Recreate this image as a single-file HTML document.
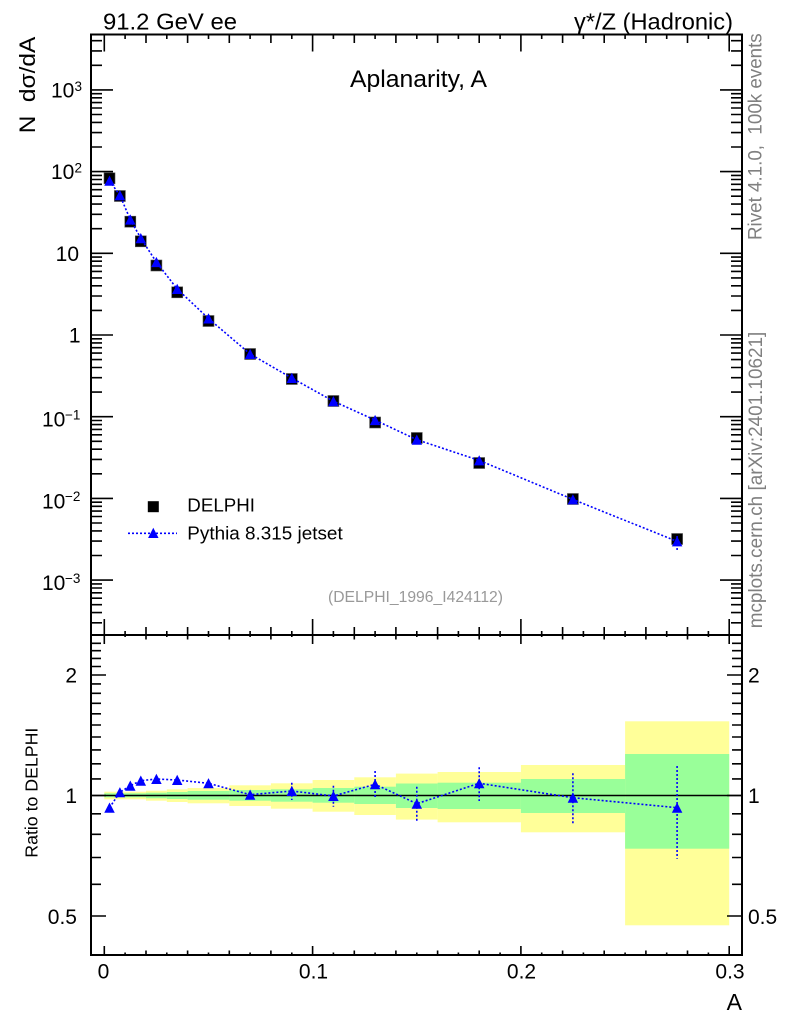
<!DOCTYPE html>
<html><head><meta charset="utf-8"><style>html,body{margin:0;padding:0;background:#fff}svg{display:block}</style></head>
<body>
<svg xmlns="http://www.w3.org/2000/svg" xmlns:xlink="http://www.w3.org/1999/xlink" width="786" height="1024" viewBox="0 0 786 1024" font-family="'Liberation Sans', Arial, sans-serif">
<defs>
<path id="tri" d="M-5.25 5 L5.25 5 L0 -5.2Z" fill="#0000ff"/>
<path id="ytTop" fill="none" stroke="#000" stroke-width="1.6" d="
M91 89.9h22M91 171.6h22M91 253.3h22M91 335h22M91 416.7h22M91 498.4h22M91 580.1h22
M91 65.3h11M91 50.9h11M91 40.7h11
M91 147h11M91 132.6h11M91 122.4h11M91 114.5h11M91 108h11M91 102.6h11M91 97.8h11M91 93.7h11
M91 228.7h11M91 214.3h11M91 204.1h11M91 196.2h11M91 189.7h11M91 184.3h11M91 179.5h11M91 175.4h11
M91 310.4h11M91 296h11M91 285.8h11M91 277.9h11M91 271.4h11M91 266h11M91 261.2h11M91 257.1h11
M91 392.1h11M91 377.7h11M91 367.5h11M91 359.6h11M91 353.1h11M91 347.7h11M91 342.9h11M91 338.8h11
M91 473.8h11M91 459.4h11M91 449.2h11M91 441.3h11M91 434.8h11M91 429.4h11M91 424.6h11M91 420.5h11
M91 555.5h11M91 541.1h11M91 530.9h11M91 523h11M91 516.5h11M91 511.1h11M91 506.3h11M91 502.2h11
M91 622.8h11M91 612.6h11M91 604.7h11M91 598.2h11M91 592.8h11M91 588h11M91 583.9h11"/>
<path id="ytBot" fill="none" stroke="#000" stroke-width="1.6" d="
M91 916h15M91 795.5h15M91 675h15
M91 884.3h10M91 857.5h10M91 834.3h10M91 813.8h10M91 778.9h10M91 763.8h10M91 749.9h10M91 737h10M91 725h10M91 713.8h10M91 703.3h10M91 693.3h10M91 683.9h10M91 666.5h10M91 658.4h10M91 650.7h10M91 643.3h10"/>
</defs>

<!-- ratio bands -->
<g fill="#ffff99">
<rect x="104.3" y="791.7" width="41.7" height="7.6"/>
<rect x="146" y="790.7" width="20.8" height="10"/>
<rect x="166.8" y="789.3" width="20.8" height="12.7"/>
<rect x="187.6" y="788" width="41.7" height="15.3"/>
<rect x="229.3" y="785.3" width="41.6" height="20.7"/>
<rect x="270.9" y="783.3" width="41.7" height="25.4"/>
<rect x="312.6" y="780" width="41.7" height="31.7"/>
<rect x="354.3" y="777.3" width="41.6" height="37.7"/>
<rect x="395.9" y="773.6" width="41.7" height="46"/>
<rect x="437.6" y="772" width="83.3" height="50.3"/>
<rect x="520.9" y="765" width="104.2" height="67.3"/>
<rect x="625.1" y="721.3" width="104.1" height="204"/>
</g>
<g fill="#99ff99">
<rect x="104.3" y="793.3" width="41.7" height="4"/>
<rect x="146" y="792.7" width="20.8" height="5.6"/>
<rect x="166.8" y="792" width="20.8" height="7"/>
<rect x="187.6" y="791" width="41.7" height="8.7"/>
<rect x="229.3" y="790" width="41.6" height="10.7"/>
<rect x="270.9" y="789.3" width="41.7" height="12.4"/>
<rect x="312.6" y="788" width="41.7" height="14.7"/>
<rect x="354.3" y="786.7" width="41.6" height="17.3"/>
<rect x="395.9" y="783.5" width="41.7" height="24.5"/>
<rect x="437.6" y="782.7" width="83.3" height="26.3"/>
<rect x="520.9" y="779" width="104.2" height="34"/>
<rect x="625.1" y="754" width="104.1" height="94.7"/>
</g>
<line x1="91" y1="795.5" x2="742" y2="795.5" stroke="#000" stroke-width="1.4"/>

<!-- frame -->
<g fill="none" stroke="#000" stroke-width="2">
<rect x="91" y="34.5" width="651" height="920.5"/>
<line x1="91" y1="635" x2="742" y2="635"/>
</g>

<!-- y ticks -->
<use xlink:href="#ytTop"/>
<use xlink:href="#ytTop" transform="translate(833,0) scale(-1,1)"/>
<use xlink:href="#ytBot"/>
<use xlink:href="#ytBot" transform="translate(833,0) scale(-1,1)"/>

<!-- x ticks -->
<g fill="none" stroke="#000" stroke-width="1.6">
<path d="M104.3 34.5v17M312.6 34.5v17M520.9 34.5v17M729.2 34.5v17
M146 34.5v8.5M187.6 34.5v8.5M229.3 34.5v8.5M270.9 34.5v8.5M354.3 34.5v8.5M395.9 34.5v8.5M437.6 34.5v8.5M479.2 34.5v8.5M562.6 34.5v8.5M604.2 34.5v8.5M645.9 34.5v8.5M687.5 34.5v8.5
M125.1 34.5v4.5M166.8 34.5v4.5M208.5 34.5v4.5M250.1 34.5v4.5M291.8 34.5v4.5M333.4 34.5v4.5M375.1 34.5v4.5M416.8 34.5v4.5M458.4 34.5v4.5M500.1 34.5v4.5M541.7 34.5v4.5M583.4 34.5v4.5M625.1 34.5v4.5M666.7 34.5v4.5M708.4 34.5v4.5"/>
<path d="M104.3 635v-16M312.6 635v-16M520.9 635v-16M729.2 635v-16
M146 635v-8M187.6 635v-8M229.3 635v-8M270.9 635v-8M354.3 635v-8M395.9 635v-8M437.6 635v-8M479.2 635v-8M562.6 635v-8M604.2 635v-8M645.9 635v-8M687.5 635v-8
M125.1 635v-4M166.8 635v-4M208.5 635v-4M250.1 635v-4M291.8 635v-4M333.4 635v-4M375.1 635v-4M416.8 635v-4M458.4 635v-4M500.1 635v-4M541.7 635v-4M583.4 635v-4M625.1 635v-4M666.7 635v-4M708.4 635v-4"/>
<path d="M104.3 635v9M312.6 635v9M520.9 635v9M729.2 635v9
M146 635v4.5M187.6 635v4.5M229.3 635v4.5M270.9 635v4.5M354.3 635v4.5M395.9 635v4.5M437.6 635v4.5M479.2 635v4.5M562.6 635v4.5M604.2 635v4.5M645.9 635v4.5M687.5 635v4.5
M125.1 635v2M166.8 635v2M208.5 635v2M250.1 635v2M291.8 635v2M333.4 635v2M375.1 635v2M416.8 635v2M458.4 635v2M500.1 635v2M541.7 635v2M583.4 635v2M625.1 635v2M666.7 635v2M708.4 635v2"/>
<path d="M104.3 955v-9M312.6 955v-9M520.9 955v-9M729.2 955v-9
M146 955v-4.5M187.6 955v-4.5M229.3 955v-4.5M270.9 955v-4.5M354.3 955v-4.5M395.9 955v-4.5M437.6 955v-4.5M479.2 955v-4.5M562.6 955v-4.5M604.2 955v-4.5M645.9 955v-4.5M687.5 955v-4.5
M125.1 955v-2.5M166.8 955v-2.5M208.5 955v-2.5M250.1 955v-2.5M291.8 955v-2.5M333.4 955v-2.5M375.1 955v-2.5M416.8 955v-2.5M458.4 955v-2.5M500.1 955v-2.5M541.7 955v-2.5M583.4 955v-2.5M625.1 955v-2.5M666.7 955v-2.5M708.4 955v-2.5"/>
</g>

<!-- top panel data squares -->
<g fill="#000" stroke="#555" stroke-width="0.6">
<rect x="104" y="172.8" width="11" height="11"/>
<rect x="114.4" y="190.5" width="11" height="11"/>
<rect x="124.8" y="216.2" width="11" height="11"/>
<rect x="135.3" y="235.8" width="11" height="11"/>
<rect x="150.9" y="260" width="11" height="11"/>
<rect x="171.7" y="286.8" width="11" height="11"/>
<rect x="203" y="315.5" width="11" height="11"/>
<rect x="244.6" y="348.5" width="11" height="11"/>
<rect x="286.3" y="373.5" width="11" height="11"/>
<rect x="327.9" y="395.5" width="11" height="11"/>
<rect x="369.6" y="417" width="11" height="11"/>
<rect x="411.3" y="432.5" width="11" height="11"/>
<rect x="473.7" y="457.5" width="11" height="11"/>
<rect x="567.4" y="493.5" width="11" height="11"/>
<rect x="671.6" y="533.5" width="11" height="11"/>
</g>

<!-- MC lines -->
<g fill="none" stroke="#0000ff" stroke-width="1.6" stroke-dasharray="2 2">
<polyline points="109.5,180.8 119.9,195.3 130.3,219.6 140.8,238.2 156.4,262.1 177.2,289 208.5,318.5 250.1,354 291.8,378 333.4,401.2 375.1,420.1 416.8,439.7 479.2,460.4 572.9,499.4 677.1,541.4"/>
<path d="M677.1 536v15"/>
<polyline points="109.5,807.7 119.9,792.3 130.3,785.7 140.8,780.7 156.4,779 177.2,780 208.5,783.3 250.1,794.7 291.8,791 333.4,796 375.1,784.3 416.8,803.7 479.2,783.3 572.9,797.7 677.1,807.7"/>
<path d="M291.8 782.7V800M333.4 785.7V806.7M375.1 771V798.3M416.8 786.7V821.7M479.2 767.3V801M572.9 773.3V824.3M677.1 766V858.7"/>
<path d="M128 533.3H177"/>
</g>

<!-- MC triangles top -->
<use xlink:href="#tri" x="109.5" y="180.8"/>
<use xlink:href="#tri" x="119.9" y="195.3"/>
<use xlink:href="#tri" x="130.3" y="219.6"/>
<use xlink:href="#tri" x="140.8" y="238.2"/>
<use xlink:href="#tri" x="156.4" y="262.1"/>
<use xlink:href="#tri" x="177.2" y="289"/>
<use xlink:href="#tri" x="208.5" y="318.5"/>
<use xlink:href="#tri" x="250.1" y="354"/>
<use xlink:href="#tri" x="291.8" y="378"/>
<use xlink:href="#tri" x="333.4" y="401.2"/>
<use xlink:href="#tri" x="375.1" y="420.1"/>
<use xlink:href="#tri" x="416.8" y="439.7"/>
<use xlink:href="#tri" x="479.2" y="460.4"/>
<use xlink:href="#tri" x="572.9" y="499.4"/>
<use xlink:href="#tri" x="677.1" y="541.4"/>
<!-- ratio triangles -->
<use xlink:href="#tri" x="109.5" y="807.7"/>
<use xlink:href="#tri" x="119.9" y="792.3"/>
<use xlink:href="#tri" x="130.3" y="785.7"/>
<use xlink:href="#tri" x="140.8" y="780.7"/>
<use xlink:href="#tri" x="156.4" y="779"/>
<use xlink:href="#tri" x="177.2" y="780"/>
<use xlink:href="#tri" x="208.5" y="783.3"/>
<use xlink:href="#tri" x="250.1" y="794.7"/>
<use xlink:href="#tri" x="291.8" y="791"/>
<use xlink:href="#tri" x="333.4" y="796"/>
<use xlink:href="#tri" x="375.1" y="784.3"/>
<use xlink:href="#tri" x="416.8" y="803.7"/>
<use xlink:href="#tri" x="479.2" y="783.3"/>
<use xlink:href="#tri" x="572.9" y="797.7"/>
<use xlink:href="#tri" x="677.1" y="807.7"/>

<!-- legend -->
<rect x="147.8" y="501.2" width="11" height="11" fill="#000"/>
<use xlink:href="#tri" x="153.3" y="533"/>
<text x="187.3" y="511.7" font-size="18.5" textLength="67.7" lengthAdjust="spacingAndGlyphs">DELPHI</text>
<text x="187.3" y="539.3" font-size="18.5" textLength="155.4" lengthAdjust="spacingAndGlyphs">Pythia 8.315 jetset</text>
<text x="328" y="602" font-size="15.5" fill="#999" textLength="175" lengthAdjust="spacingAndGlyphs">(DELPHI_1996_I424112)</text>

<!-- titles -->
<text x="103" y="29.3" font-size="23" textLength="134" lengthAdjust="spacingAndGlyphs">91.2 GeV ee</text>
<text x="574" y="29.3" font-size="23" textLength="159" lengthAdjust="spacingAndGlyphs">γ*/Z (Hadronic)</text>
<text x="350" y="87" font-size="24" textLength="137" lengthAdjust="spacingAndGlyphs">Aplanarity, A</text>

<text transform="translate(35,133.3) rotate(-90)" font-size="22" textLength="96.6" lengthAdjust="spacingAndGlyphs" xml:space="preserve">N  dσ/dA</text>
<text transform="translate(37.3,857.7) rotate(-90)" font-size="17.5" textLength="130" lengthAdjust="spacingAndGlyphs">Ratio to DELPHI</text>
<text transform="translate(761.5,240) rotate(-90)" font-size="19.5" fill="#808080" textLength="206.7" lengthAdjust="spacingAndGlyphs" xml:space="preserve">Rivet 4.1.0,  100k events</text>
<text transform="translate(762,628.3) rotate(-90)" font-size="19.5" fill="#808080" textLength="296.6" lengthAdjust="spacingAndGlyphs">mcplots.cern.ch [arXiv:2401.10621]</text>

<!-- top panel y labels -->
<g font-size="21">
<text x="51" y="97.5">10</text><text x="74.5" y="91" font-size="13.5">3</text>
<text x="51" y="179.2">10</text><text x="74.5" y="172.7" font-size="13.5">2</text>
<text x="79" y="261" text-anchor="end">10</text>
<text x="80.5" y="342.5" text-anchor="end">1</text>
<text x="42" y="426.7">10</text><text x="65" y="419.5" font-size="13.5">−1</text>
<text x="42" y="508.4">10</text><text x="65" y="501.2" font-size="13.5">−2</text>
<text x="42" y="590.1">10</text><text x="65" y="582.9" font-size="13.5">−3</text>
</g>

<!-- bottom panel y labels -->
<g font-size="21">
<text x="77" y="682.7" text-anchor="end">2</text>
<text x="77" y="803" text-anchor="end">1</text>
<text x="77" y="924" text-anchor="end">0.5</text>
<text x="748" y="682.7">2</text>
<text x="748" y="803">1</text>
<text x="748" y="924">0.5</text>
</g>

<!-- x labels -->
<g font-size="21" text-anchor="middle">
<text x="103.5" y="978.3">0</text>
<text x="313.5" y="978.3">0.1</text>
<text x="521.5" y="978.3">0.2</text>
<text x="730" y="978.3">0.3</text>
</g>
<text x="742" y="1010" font-size="23" text-anchor="end">A</text>
</svg>
</body></html>
